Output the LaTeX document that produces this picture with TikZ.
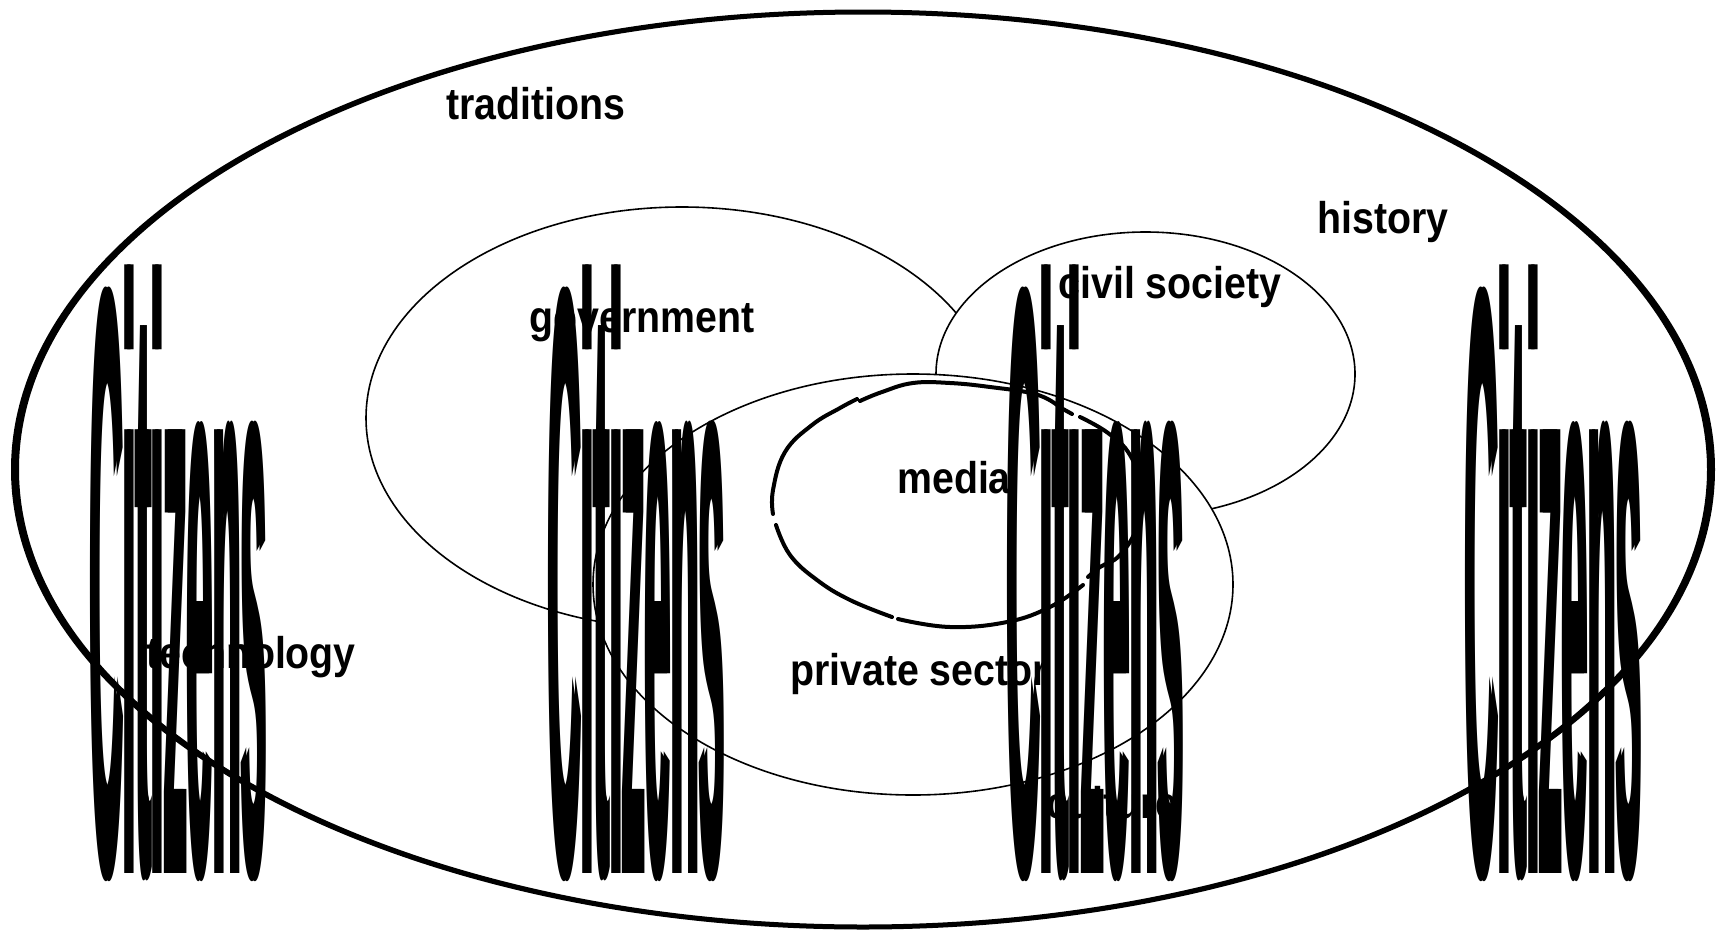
\documentclass[tikz,border=0pt]{standalone}
\usepackage{fontspec}
\setmainfont{Liberation Sans}
\usepackage{graphicx}
% the tall, squeezed "Citizens" word, thickened by printing it twice side by side
\newcommand{\citzword}{\scalebox{1.154}[21]{\fontsize{40}{40}\selectfont\bfseries Citizens}}
\newcommand{\tallcitz}{\rlap{\kern-1.5pt\citzword}\kern1.5pt\citzword\kern-1.5pt}
% labels are set slightly taller than normal
\newcommand{\lblstretch}[1]{\scalebox{1}[1.13]{#1}}

\begin{document}
\begin{tikzpicture}[x=1pt,y=-1pt,
  outerring/.style={fill=black, even odd rule},
  sector/.style={draw=black, fill=white, line width=1.6pt},
  mediastroke/.style={line width=4pt, line cap=round},
  lbl/.style={anchor=base, inner sep=0pt, font=\fontsize{39.3}{40}\selectfont\bfseries},
  citz/.style={anchor=base, inner sep=0pt}]

% page
\fill[white] (0,0) rectangle (1725,935);
\useasboundingbox (0,0) rectangle (1725,935);

% society as a whole: a ring heavier at its sides than at top and bottom
\fill[outerring] (863,469.5) ellipse [x radius=852pt, y radius=460pt]
                 (863,469.5) ellipse [x radius=844pt, y radius=455pt];

% overlapping sectors, each one hiding the lines beneath it
\draw[sector] (682,418) ellipse [x radius=316pt, y radius=211pt];
\draw[sector] (1145.5,374) ellipse [x radius=209.5pt, y radius=142pt];
\draw[sector] (913,584.5) ellipse [x radius=320pt, y radius=210.5pt];

% media: a broken freehand loop
\draw[mediastroke] plot[smooth, tension=0.7] coordinates
  {(773,514) (773,490) (785,452) (812,425) (840,408) (857,399)};
\draw[mediastroke] plot[smooth, tension=0.7] coordinates
  {(860,401) (882,392) (913,383) (950,383) (990,387) (1035,394) (1057,405)};
\draw[mediastroke] (1063,409) -- (1072,414);
\draw[mediastroke] plot[smooth, tension=0.7] coordinates
  {(1080,417) (1108,433) (1130,455) (1142,490) (1138,525) (1120,555) (1100,567) (1088,577)};
\draw[mediastroke] plot[smooth, tension=0.7] coordinates
  {(1083,585) (1050,607) (1007,622) (950,627) (898,619)};
\draw[mediastroke] plot[smooth, tension=0.7] coordinates
  {(892,617) (850,600) (817,580) (790,555) (776,525)};

% labels
\node[lbl] (traditions) at (536,119) {\lblstretch{traditions}};
\node[lbl] (history) at (1383,233) {\lblstretch{history}};
\node[lbl] (civil) at (1170,298) {\lblstretch{civil society}};
\node[lbl] (government) at (642,332) {\lblstretch{government}};
\node[lbl] (media) at (954,493) {\lblstretch{media}};
\node[lbl] (technology) at (251,668) {\lblstretch{technology}};
\node[lbl] (private) at (919,685) {\lblstretch{private sector}};
\node[lbl] (culture) at (1112,818) {\lblstretch{culture}};

% citizens standing across everything
\node[citz] (cit1) at (178,873) {\tallcitz};
\node[citz] (cit2) at (636.5,873) {\tallcitz};
\node[citz] (cit3) at (1095,873) {\tallcitz};
\node[citz] (cit4) at (1553.5,873) {\tallcitz};
\end{tikzpicture}
\end{document}
